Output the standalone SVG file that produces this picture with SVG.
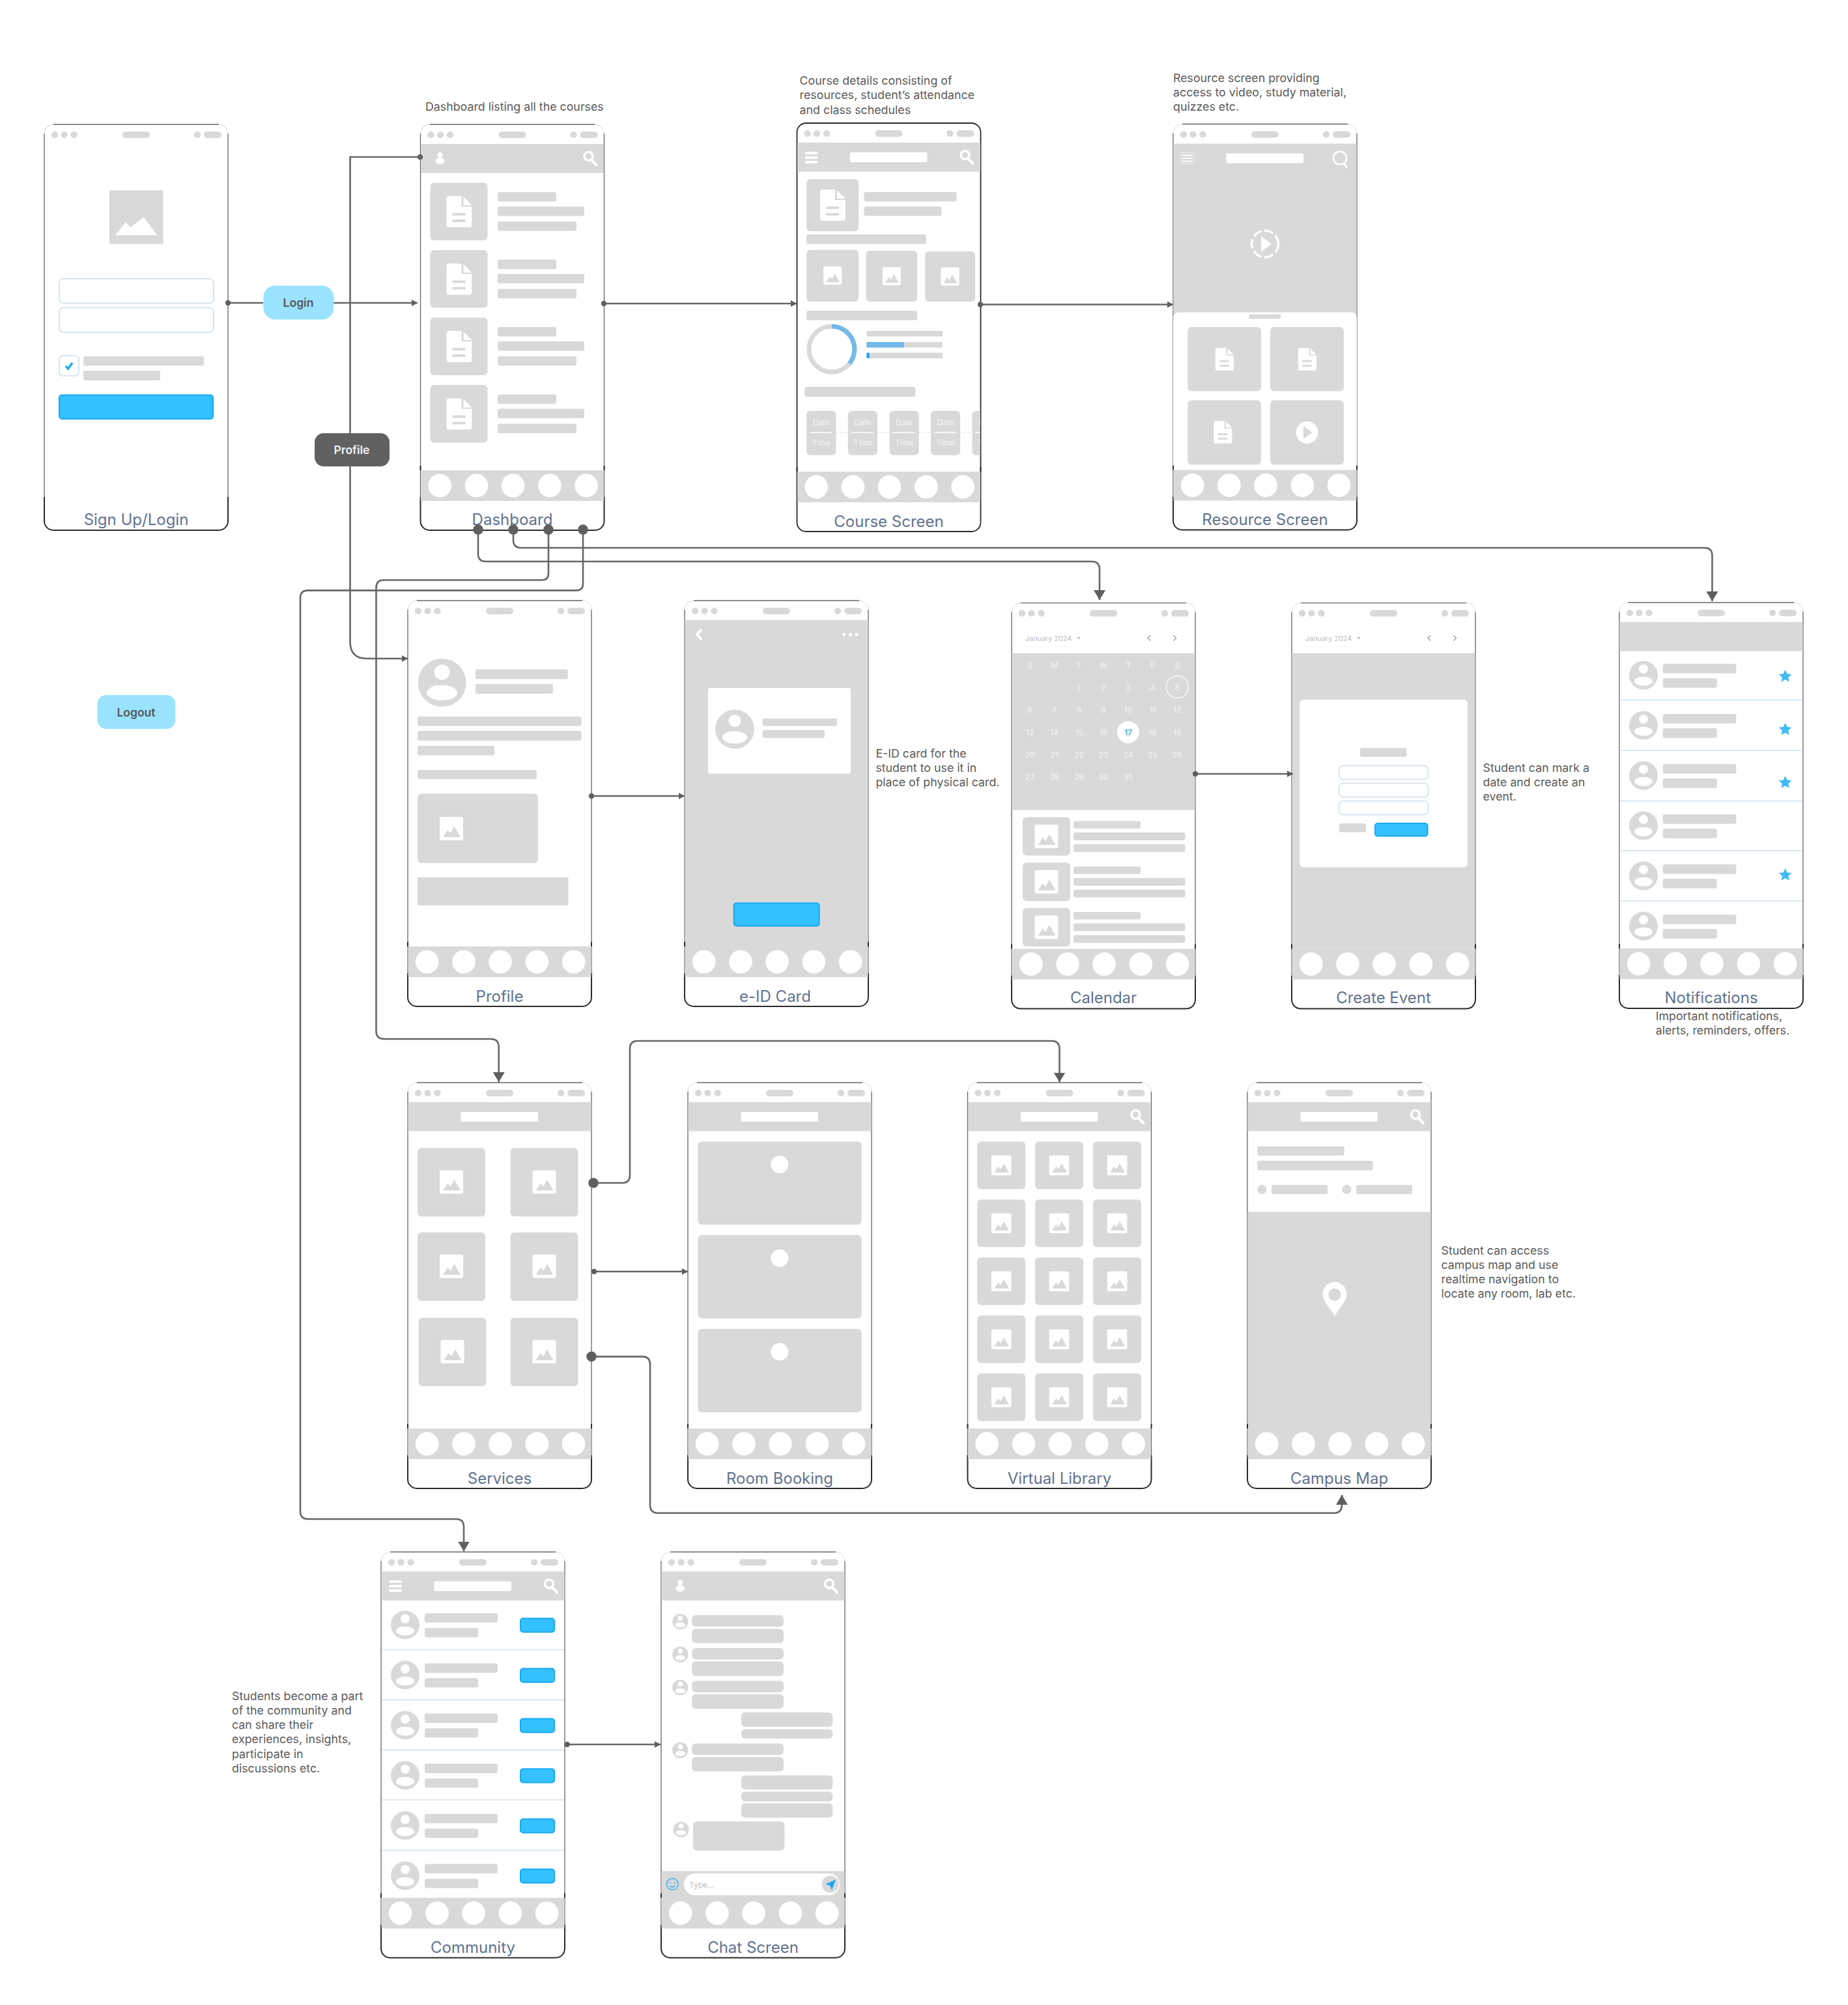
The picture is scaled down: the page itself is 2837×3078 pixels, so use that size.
<svg xmlns="http://www.w3.org/2000/svg" xmlns:xlink="http://www.w3.org/1999/xlink" width="2837" height="3078" viewBox="0 0 2837 3078">
<style>
text{font-family:Inter,"Liberation Sans",sans-serif}
.g{fill:#d9d9d9}
.w{fill:#fff}
.l{fill:#d9d9d9;rx:3px}
.c{fill:#d9d9d9;rx:6px}
.t{fill:#fff;rx:2px}
.lab{font-size:24px;fill:#5f7290;text-anchor:middle}
.note{font-size:17.8px;fill:#5a5a5a}
.pill{font-size:17.5px;font-weight:600;text-anchor:middle}
.inp{fill:#fff;stroke:#d8e5ef;stroke-width:2;rx:6px}
.btn{fill:#33c1ff;stroke:#1aa7f5;stroke-width:2;rx:4px}
.cal{font-size:12px;fill:#f4f4f4;text-anchor:middle}
.cal2{font-size:10.8px;fill:#bdbdbd}
.dt{font-size:12px;fill:#f4f4f4;text-anchor:middle}
.ic{fill:none;stroke:#fff}
.div{stroke:#cfe2f0;stroke-width:1.5}
.star{fill:#3fbaf6}
.conn{fill:none;stroke:#666;stroke-width:2.6}
.mk{fill:#5f5f5f}
.fs{fill:none;stroke:#666;stroke-width:1.3}
.fb{fill:none;stroke:#2b2b2b;stroke-width:2}
</style>
<defs>
<marker id="as" markerUnits="userSpaceOnUse" markerWidth="10" markerHeight="12" refX="9" refY="5" orient="auto" viewBox="0 0 10 10"><path class="mk" d="M0 0L9 5L0 10Z"/></marker>
<marker id="al" markerUnits="userSpaceOnUse" markerWidth="16" markerHeight="18" refX="15" refY="9" orient="auto" viewBox="0 0 16 18"><path class="mk" d="M0 0L15 9L0 18Z"/></marker>
<marker id="ds" markerUnits="userSpaceOnUse" markerWidth="10" markerHeight="10" refX="5" refY="5" viewBox="0 0 10 10"><circle class="mk" cx="5" cy="5" r="4.2"/></marker>
<marker id="dl" markerUnits="userSpaceOnUse" markerWidth="18" markerHeight="18" refX="9" refY="9" viewBox="0 0 18 18"><circle class="mk" cx="9" cy="9" r="7.8"/></marker>
<g id="sb"><ellipse class="g" cx="16" cy="16" rx="5.2" ry="5"/><ellipse class="g" cx="30.5" cy="16" rx="5.2" ry="5"/><ellipse class="g" cx="45.5" cy="16" rx="5.2" ry="5"/><rect class="g" x="120" y="11" width="42" height="10" rx="5"/><ellipse class="g" cx="235" cy="16" rx="5.2" ry="5"/><rect class="g" x="245" y="11" width="27" height="10" rx="5"/></g>
<g id="frame"><rect class="w" width="282" height="623" rx="14"/><path class="fs" d="M14 0H268M0 14V572M282 14V572"/><path d="M0 14A14 14 0 0 1 14 0M268 0A14 14 0 0 1 282 14" fill="none" stroke="#cfdfe8"/><path class="fb" d="M0 572V609A14 14 0 0 0 14 623H268A14 14 0 0 0 282 609V572"/><use href="#sb" xlink:href="#sb"/></g>
<g id="nav"><path class="fb" d="M0 524V531M282 524V531"/><rect class="g" x="0.5" y="531" width="281" height="47"/><ellipse class="w" cx="29.7" cy="554.5" rx="17.8" ry="18"/><ellipse class="w" cx="86" cy="554.5" rx="17.8" ry="18"/><ellipse class="w" cx="142" cy="554.5" rx="17.8" ry="18"/><ellipse class="w" cx="198.4" cy="554.5" rx="17.8" ry="18"/><ellipse class="w" cx="254.6" cy="554.5" rx="17.8" ry="18"/></g>
<g id="av"><circle class="g" r="22"/><circle class="w" cy="-9.5" r="7"/><ellipse class="w" cy="9.2" rx="14" ry="7"/></g>
<g id="img"><rect class="w" x="-18" y="-18" width="36" height="36" rx="3"/><path class="g" d="M-13 13L-5.5 2L-1.5 7L4.5 -3.5L14 13Z"/></g>
<g id="doc"><path class="w" d="M-19 -20a4 4 0 0 1 4 -4H4V-8H20V20a4 4 0 0 1 -4 4H-15a4 4 0 0 1 -4 -4ZM7 -23L20 -10H7Z"/><rect class="g" x="-10" y="2" width="20" height="4"/><rect class="g" x="-10" y="12" width="20" height="4"/></g>
<g id="search"><circle class="ic" cx="-2" cy="-3" r="6.5" stroke-width="3.5"/><path class="ic" d="M3 3L10 10" stroke-width="4" stroke-linecap="round"/></g>
<g id="menu"><rect class="w" x="0" y="0" width="20" height="4" rx="2"/><rect class="w" x="0" y="7" width="20" height="4" rx="2"/><rect class="w" x="0" y="14" width="20" height="4" rx="2"/></g>
<g id="person"><circle class="w" cy="-6" r="4"/><ellipse class="w" cy="3" rx="7" ry="5"/></g>
<g id="hdr"><rect class="g" x="0.5" y="30" width="281" height="44.5"/></g>
<g id="ttl"><rect class="t" x="81.5" y="45" width="118.5" height="15"/></g>
<g id="nrow"><use href="#av" xlink:href="#av" x="37" y="111.6"/><rect class="l" x="66.8" y="94" width="112.6" height="14.8"/><rect class="l" x="66.8" y="116" width="83" height="14.8"/></g>
<g id="crow"><use href="#av" xlink:href="#av" x="37" y="112"/><rect class="l" x="67" y="94" width="112" height="14.4"/><rect class="l" x="67" y="116.7" width="82" height="14.4"/><rect class="btn" x="214" y="102" width="52" height="21"/></g>
<g id="dcard"><rect class="c" x="15" y="89.5" width="88" height="88.5"/><use href="#doc" xlink:href="#doc" x="59" y="134"/><rect class="l" x="118.5" y="104" width="90" height="14.5"/><rect class="l" x="118.5" y="126" width="133" height="14.5"/><rect class="l" x="118.5" y="149" width="121" height="14.5"/></g>
<g id="lcard"><rect class="c" width="74" height="73"/><g transform="translate(37 36.5) scale(.85)"><use href="#img" xlink:href="#img"/></g></g>
<g id="scard"><rect class="c" width="104" height="105"/><use href="#img" xlink:href="#img" x="52" y="52"/></g>
<g id="evt"><rect class="c" x="17" y="329" width="73" height="59"/><use href="#img" xlink:href="#img" x="53.5" y="358.5"/><rect class="l" x="95" y="335" width="103" height="11.5"/><rect class="l" x="95" y="352.5" width="171.5" height="12"/><rect class="l" x="95" y="370.5" width="171.5" height="12"/></g>
<g id="dcd"><rect class="c" width="45.2" height="68"/><text class="dt" x="22.6" y="22.5">Date</text><rect class="w" x="5" y="32.5" width="34" height="1.5"/><text class="dt" x="22.6" y="53.5">Time</text></g>
<g id="bb"><rect class="c" x="0" y="0" width="140.8" height="17.7"/></g>
<polygon id="st" class="star" points="0,-10.3 2.9,-3.9 9.9,-3.2 4.6,1.5 6.1,8.4 0,4.8 -6.1,8.4 -4.6,1.5 -9.9,-3.2 -2.9,-3.9"/>
<clipPath id="ccl"><rect x="0" y="430" width="281" height="90"/></clipPath>
</defs>

<g id="sign-up-login" transform="translate(68 191)">
<use href="#frame" xlink:href="#frame"/>
<rect class="g" x="100" y="101" width="82.5" height="82.5" rx="2"/>
<path class="w" d="M109 170L125 150L132 158L152.6 142.8L173.7 170Z"/>
<rect class="inp" x="23" y="237" width="237" height="37.5"/>
<rect class="inp" x="23" y="281.5" width="237" height="37.5"/>
<rect class="inp" x="23" y="355" width="30" height="31"/>
<path d="M33 371L36.5 375L43 366" fill="none" stroke="#1aa7f5" stroke-width="3.4"/>
<rect class="l" x="60" y="356" width="185" height="14.5"/>
<rect class="l" x="60" y="378" width="118" height="15"/>
<rect class="btn" x="23" y="415.5" width="236" height="36.5"/>
<text class="lab" x="141" y="615">Sign Up/Login</text>
</g>

<g id="dashboard" transform="translate(645.5 191)">
<use href="#frame" xlink:href="#frame"/>
<use href="#hdr" xlink:href="#hdr"/>
<use href="#person" xlink:href="#person" x="30" y="53"/>
<use href="#search" xlink:href="#search" x="260" y="52"/>
<use href="#dcard" xlink:href="#dcard"/>
<use href="#dcard" xlink:href="#dcard" y="103.5"/>
<use href="#dcard" xlink:href="#dcard" y="207"/>
<use href="#dcard" xlink:href="#dcard" y="310.5"/>
<use href="#nav" xlink:href="#nav"/>
<text class="lab" x="141" y="615">Dashboard</text>
</g>

<g id="course-screen" transform="translate(1223.5 189)">
<rect class="w" width="282" height="627" rx="14"/>
<rect width="282" height="627" rx="14" fill="none" stroke="#2b2b2b" stroke-width="1.8"/>
<use href="#sb" xlink:href="#sb"/>
<use href="#hdr" xlink:href="#hdr"/>
<use href="#menu" xlink:href="#menu" x="12" y="44"/>
<use href="#ttl" xlink:href="#ttl"/>
<use href="#search" xlink:href="#search" x="260" y="52"/>
<rect class="c" x="14.7" y="86" width="80" height="80"/>
<use href="#doc" xlink:href="#doc" x="54.5" y="126"/>
<rect class="l" x="103" y="105.7" width="142" height="14.6"/>
<rect class="l" x="103" y="128" width="119" height="14.6"/>
<rect class="l" x="14.7" y="170.8" width="183.5" height="14.7"/>
<rect class="c" x="14.7" y="194.4" width="80" height="79.6"/>
<g transform="translate(54.7 234) scale(.78)"><use href="#img" xlink:href="#img"/></g>
<rect class="c" x="106" y="196" width="78.6" height="78"/>
<g transform="translate(145.3 235) scale(.78)"><use href="#img" xlink:href="#img"/></g>
<rect class="c" x="196.6" y="197" width="77" height="77"/>
<g transform="translate(235 235.5) scale(.78)"><use href="#img" xlink:href="#img"/></g>
<rect class="l" x="14.7" y="288" width="170" height="14.5"/>
<circle cx="53.4" cy="347" r="35" fill="none" stroke="#d9d9d9" stroke-width="7"/>
<path d="M53.4 312A35 35 0 0 1 80.5 369" fill="none" stroke="#74b9e8" stroke-width="7"/>
<rect class="g" x="106.8" y="319" width="116.8" height="8.4" rx="1"/>
<rect class="g" x="106.8" y="336" width="116.8" height="8.4" rx="1"/>
<rect x="106.8" y="336" width="57.6" height="8.4" rx="1" fill="#74b9e8"/>
<rect class="g" x="106.8" y="352.5" width="116.8" height="8.4" rx="1"/>
<rect x="106.8" y="352.5" width="4.7" height="8.4" rx="1" fill="#2aa8f0"/>
<rect class="l" x="11.7" y="405" width="170.2" height="15"/>
<path d="M59 475H282" stroke="#d9d9d9" stroke-width="1.2" stroke-dasharray="4 3"/>
<g clip-path="url(#ccl)">
<use href="#dcd" xlink:href="#dcd" x="14.7" y="441.7"/>
<use href="#dcd" xlink:href="#dcd" x="78.3" y="441.7"/>
<use href="#dcd" xlink:href="#dcd" x="142" y="441.7"/>
<use href="#dcd" xlink:href="#dcd" x="205.4" y="441.7"/>
<use href="#dcd" xlink:href="#dcd" x="269" y="441.7"/>
</g>
<use href="#nav" xlink:href="#nav" y="4"/>
<text class="lab" x="141" y="620">Course Screen</text>
</g>

<g id="resource-screen" transform="translate(1801 190.5)">
<use href="#frame" xlink:href="#frame"/>
<rect class="g" x="0.5" y="30" width="281" height="262"/>
<rect class="w" x="0" y="289" width="282" height="245" rx="8"/>
<rect x="12" y="44" width="19" height="17" fill="none" stroke="#eee" stroke-width="1"/>
<path d="M14 48H29M14 52.5H29M14 57H29" stroke="#fff" stroke-width="2"/>
<use href="#ttl" xlink:href="#ttl"/>
<circle class="ic" cx="256" cy="52" r="10" stroke-width="2.6"/><path class="ic" d="M262 60L267 67" stroke-width="3"/>
<circle class="ic" cx="141" cy="184" r="20.5" stroke-width="3.5" stroke-dasharray="14 5"/>
<path class="w" d="M135 172L151 184L135 196Z"/>
<rect class="g" x="116" y="292" width="49.5" height="7" rx="3.5"/>
<rect class="c" x="22.3" y="311.5" width="112.7" height="98.5"/>
<g transform="translate(78.6 361) scale(.72)"><use href="#doc" xlink:href="#doc"/></g>
<rect class="c" x="149" y="311.5" width="113" height="98.5"/>
<g transform="translate(205.5 361) scale(.72)"><use href="#doc" xlink:href="#doc"/></g>
<rect class="c" x="22.3" y="424" width="112.7" height="99"/>
<g transform="translate(76 473) scale(.72)"><use href="#doc" xlink:href="#doc"/></g>
<rect class="c" x="149" y="424" width="113" height="99"/>
<circle class="w" cx="205.5" cy="473.5" r="17"/><path class="g" d="M200 464L214 473.5L200 483Z"/>
<use href="#nav" xlink:href="#nav"/>
<text class="lab" x="141" y="615">Resource Screen</text>
</g>

<g id="profile" transform="translate(626 922)">
<use href="#frame" xlink:href="#frame"/>
<g transform="translate(52.6 126) scale(1.68)"><use href="#av" xlink:href="#av"/></g>
<rect class="l" x="103.8" y="105.5" width="142" height="15"/>
<rect class="l" x="103.8" y="128" width="119" height="15"/>
<rect class="l" x="15" y="178" width="251.6" height="14.5"/>
<rect class="l" x="15" y="200" width="251.6" height="15"/>
<rect class="l" x="15" y="223" width="118" height="14.5"/>
<rect class="l" x="15" y="260" width="183" height="14"/>
<rect class="c" x="15" y="296.5" width="185" height="106.5"/>
<use href="#img" xlink:href="#img" x="67" y="350"/>
<rect class="g" x="15" y="425" width="231.5" height="43"/>
<use href="#nav" xlink:href="#nav"/>
<text class="lab" x="141" y="616">Profile</text>
</g>

<g id="e-id-card" transform="translate(1051 922)">
<use href="#frame" xlink:href="#frame"/>
<rect class="g" x="0.5" y="30" width="281" height="501"/>
<path class="ic" d="M26 44L19 52L26 60" stroke-width="4"/>
<circle class="w" cx="245" cy="52" r="2.6"/><circle class="w" cx="254.5" cy="52" r="2.6"/><circle class="w" cx="264" cy="52" r="2.6"/>
<rect class="w" x="36" y="134" width="219" height="131.7" rx="4"/>
<g transform="translate(77 197.5) scale(1.36)"><use href="#av" xlink:href="#av"/></g>
<rect class="l" x="119.6" y="181" width="114.4" height="11.5"/>
<rect class="l" x="119.6" y="198.5" width="95.4" height="12.5"/>
<rect class="btn" x="75.7" y="464.6" width="131" height="34.9"/>
<use href="#nav" xlink:href="#nav"/>
<text class="lab" x="139" y="616">e-ID Card</text>
</g>

<g id="calendar" transform="translate(1553 925.6)">
<use href="#frame" xlink:href="#frame"/>
<text class="cal2" x="21" y="58">January 2024</text>
<path d="M100 52.5H106L103 56Z" fill="#bdbdbd"/>
<path d="M213 50L209 54L213 58M248.5 50L252.5 54L248.5 58" fill="none" stroke="#aaa" stroke-width="1.6"/>
<rect class="g" x="0.5" y="77" width="281" height="241"/>
<circle cx="254.4" cy="129" r="17" fill="none" stroke="#fff" stroke-width="1.2"/>
<circle class="w" cx="179" cy="198.5" r="17"/>
<text class="cal" x="27.8" y="100">S</text><text class="cal" x="65.5" y="100">M</text><text class="cal" x="103.4" y="100">T</text><text class="cal" x="141" y="100">W</text><text class="cal" x="179" y="100">T</text><text class="cal" x="216.6" y="100">F</text><text class="cal" x="254.4" y="100">S</text>
<text class="cal" x="103.4" y="134">1</text><text class="cal" x="141" y="134">2</text><text class="cal" x="179" y="134">3</text><text class="cal" x="216.6" y="134">4</text><text class="cal" x="254.4" y="134">5</text>
<text class="cal" x="27.8" y="168.5">6</text><text class="cal" x="65.5" y="168.5">7</text><text class="cal" x="103.4" y="168.5">8</text><text class="cal" x="141" y="168.5">9</text><text class="cal" x="179" y="168.5">10</text><text class="cal" x="216.6" y="168.5">11</text><text class="cal" x="254.4" y="168.5">12</text>
<text class="cal" x="27.8" y="203">13</text><text class="cal" x="65.5" y="203">14</text><text class="cal" x="103.4" y="203">15</text><text class="cal" x="141" y="203">16</text><text class="cal" x="179" y="203" style="fill:#3aa9ee;font-weight:600">17</text><text class="cal" x="216.6" y="203">18</text><text class="cal" x="254.4" y="203">19</text>
<text class="cal" x="27.8" y="237.5">20</text><text class="cal" x="65.5" y="237.5">21</text><text class="cal" x="103.4" y="237.5">22</text><text class="cal" x="141" y="237.5">23</text><text class="cal" x="179" y="237.5">24</text><text class="cal" x="216.6" y="237.5">25</text><text class="cal" x="254.4" y="237.5">26</text>
<text class="cal" x="27.8" y="271.5">27</text><text class="cal" x="65.5" y="271.5">28</text><text class="cal" x="103.4" y="271.5">29</text><text class="cal" x="141" y="271.5">30</text><text class="cal" x="179" y="271.5">31</text>
<use href="#evt" xlink:href="#evt"/>
<use href="#evt" xlink:href="#evt" y="69.7"/>
<use href="#evt" xlink:href="#evt" y="139.4"/>
<use href="#nav" xlink:href="#nav"/>
<text class="lab" x="141" y="614">Calendar</text>
</g>

<g id="create-event" transform="translate(1983 925.6)">
<use href="#frame" xlink:href="#frame"/>
<text class="cal2" x="21" y="58">January 2024</text>
<path d="M100 52.5H106L103 56Z" fill="#bdbdbd"/>
<path d="M213 50L209 54L213 58M248.5 50L252.5 54L248.5 58" fill="none" stroke="#aaa" stroke-width="1.6"/>
<rect class="g" x="0.5" y="77" width="281" height="454"/>
<rect class="w" x="12.3" y="148.3" width="257.6" height="257.7" rx="6"/>
<rect class="l" x="105" y="222.7" width="71.5" height="13.7"/>
<rect class="inp" x="72.7" y="250" width="136.8" height="21"/>
<rect class="inp" x="72.7" y="277" width="136.8" height="21"/>
<rect class="inp" x="72.7" y="304" width="136.8" height="21"/>
<rect class="l" x="72.7" y="338.5" width="41.3" height="13.5"/>
<rect class="btn" x="128" y="338.5" width="80.6" height="19.5"/>
<use href="#nav" xlink:href="#nav"/>
<text class="lab" x="141" y="614">Create Event</text>
</g>

<g id="notifications" transform="translate(2486 925)">
<use href="#frame" xlink:href="#frame"/>
<use href="#hdr" xlink:href="#hdr"/>
<use href="#nrow" xlink:href="#nrow"/>
<use href="#nrow" xlink:href="#nrow" y="77"/>
<use href="#nrow" xlink:href="#nrow" y="154"/>
<use href="#nrow" xlink:href="#nrow" y="231"/>
<use href="#nrow" xlink:href="#nrow" y="308"/>
<use href="#nrow" xlink:href="#nrow" y="385"/>
<path class="div" d="M1.5 149.7H281M1.5 227H281M1.5 304.4H281M1.5 381H281M1.5 458H281"/>
<use href="#st" xlink:href="#st" x="254.6" y="113.4"/>
<use href="#st" xlink:href="#st" x="254.6" y="195"/>
<use href="#st" xlink:href="#st" x="254.6" y="276.4"/>
<use href="#st" xlink:href="#st" x="254.6" y="418.3"/>
<use href="#nav" xlink:href="#nav"/>
<text class="lab" x="141" y="615">Notifications</text>
</g>

<g id="services" transform="translate(626 1662)">
<use href="#frame" xlink:href="#frame"/>
<use href="#hdr" xlink:href="#hdr"/>
<use href="#ttl" xlink:href="#ttl"/>
<use href="#scard" xlink:href="#scard" x="15" y="100.5"/>
<use href="#scard" xlink:href="#scard" x="157.5" y="100.5"/>
<use href="#scard" xlink:href="#scard" x="15" y="230"/>
<use href="#scard" xlink:href="#scard" x="157.5" y="230"/>
<use href="#scard" xlink:href="#scard" x="16.5" y="361"/>
<use href="#scard" xlink:href="#scard" x="157.5" y="361"/>
<use href="#nav" xlink:href="#nav"/>
<text class="lab" x="141" y="616">Services</text>
</g>

<g id="room-booking" transform="translate(1056 1662)">
<use href="#frame" xlink:href="#frame"/>
<use href="#hdr" xlink:href="#hdr"/>
<use href="#ttl" xlink:href="#ttl"/>
<rect class="c" x="15.4" y="90.5" width="251.3" height="127.5"/>
<rect class="c" x="15.4" y="234" width="251.3" height="128"/>
<rect class="c" x="15.4" y="378" width="251.3" height="128"/>
<circle class="w" cx="140.8" cy="125.8" r="13.5"/>
<circle class="w" cx="140.8" cy="269.5" r="13.5"/>
<circle class="w" cx="140.8" cy="413.2" r="13.5"/>
<use href="#nav" xlink:href="#nav"/>
<text class="lab" x="141" y="616">Room Booking</text>
</g>

<g id="virtual-library" transform="translate(1485.5 1662)">
<use href="#frame" xlink:href="#frame"/>
<use href="#hdr" xlink:href="#hdr"/>
<use href="#ttl" xlink:href="#ttl"/>
<use href="#search" xlink:href="#search" x="260" y="52"/>
<use href="#lcard" xlink:href="#lcard" x="14.7" y="90.5"/><use href="#lcard" xlink:href="#lcard" x="103.5" y="90.5"/><use href="#lcard" xlink:href="#lcard" x="192.6" y="90.5"/>
<use href="#lcard" xlink:href="#lcard" x="14.7" y="179.5"/><use href="#lcard" xlink:href="#lcard" x="103.5" y="179.5"/><use href="#lcard" xlink:href="#lcard" x="192.6" y="179.5"/>
<use href="#lcard" xlink:href="#lcard" x="14.7" y="268.5"/><use href="#lcard" xlink:href="#lcard" x="103.5" y="268.5"/><use href="#lcard" xlink:href="#lcard" x="192.6" y="268.5"/>
<use href="#lcard" xlink:href="#lcard" x="14.7" y="357.5"/><use href="#lcard" xlink:href="#lcard" x="103.5" y="357.5"/><use href="#lcard" xlink:href="#lcard" x="192.6" y="357.5"/>
<use href="#lcard" xlink:href="#lcard" x="14.7" y="446.5"/><use href="#lcard" xlink:href="#lcard" x="103.5" y="446.5"/><use href="#lcard" xlink:href="#lcard" x="192.6" y="446.5"/>
<use href="#nav" xlink:href="#nav"/>
<text class="lab" x="141" y="616">Virtual Library</text>
</g>

<g id="campus-map" transform="translate(1915 1662)">
<use href="#frame" xlink:href="#frame"/>
<use href="#hdr" xlink:href="#hdr"/>
<use href="#ttl" xlink:href="#ttl"/>
<use href="#search" xlink:href="#search" x="260" y="52"/>
<rect class="l" x="15.3" y="97.8" width="133.4" height="14.2"/>
<rect class="l" x="15.3" y="120" width="177.3" height="14.5"/>
<circle class="g" cx="22.3" cy="164" r="7.2"/>
<rect class="l" x="37" y="157" width="86" height="14.3"/>
<circle class="g" cx="152.4" cy="164" r="7.2"/>
<rect class="l" x="167" y="157" width="86" height="14.3"/>
<rect class="g" x="0.5" y="198.4" width="281" height="333"/>
<path class="w" d="M134 358.6C127 345 115.5 337 115.5 324.5A18.5 18.5 0 0 1 152.5 324.5C152.5 337 141 345 134 358.6Z"/>
<circle class="g" cx="134" cy="325.5" r="9.5"/>
<use href="#nav" xlink:href="#nav"/>
<text class="lab" x="141" y="616">Campus Map</text>
</g>

<g id="community" transform="translate(585 2382.5)">
<use href="#frame" xlink:href="#frame"/>
<use href="#hdr" xlink:href="#hdr"/>
<use href="#menu" xlink:href="#menu" x="12" y="43.5"/>
<use href="#ttl" xlink:href="#ttl"/>
<use href="#search" xlink:href="#search" x="260" y="52"/>
<use href="#crow" xlink:href="#crow"/>
<use href="#crow" xlink:href="#crow" y="77"/>
<use href="#crow" xlink:href="#crow" y="154"/>
<use href="#crow" xlink:href="#crow" y="231"/>
<use href="#crow" xlink:href="#crow" y="308"/>
<use href="#crow" xlink:href="#crow" y="385"/>
<path class="div" d="M1 150H281M1 227H281M1 304H281M1 380.7H281M1 458H281"/>
<use href="#nav" xlink:href="#nav"/>
<text class="lab" x="141" y="615">Community</text>
</g>

<g id="chat-screen" transform="translate(1015 2382.5)">
<use href="#frame" xlink:href="#frame"/>
<use href="#hdr" xlink:href="#hdr"/>
<use href="#person" xlink:href="#person" x="29.3" y="53"/>
<use href="#search" xlink:href="#search" x="260" y="52"/>
<g transform="translate(29.3 107) scale(.55)"><use href="#av" xlink:href="#av"/></g>
<g transform="translate(29.3 157.4) scale(.55)"><use href="#av" xlink:href="#av"/></g>
<g transform="translate(29.3 208) scale(.55)"><use href="#av" xlink:href="#av"/></g>
<g transform="translate(29.3 304.4) scale(.55)"><use href="#av" xlink:href="#av"/></g>
<g transform="translate(30.6 426) scale(.55)"><use href="#av" xlink:href="#av"/></g>
<use href="#bb" xlink:href="#bb" x="47.2" y="97"/>
<rect class="c" x="47.2" y="118" width="140.8" height="22"/>
<use href="#bb" xlink:href="#bb" x="47.2" y="147.4"/>
<rect class="c" x="47.2" y="168" width="140.8" height="22.4"/>
<use href="#bb" xlink:href="#bb" x="47.2" y="197.7"/>
<rect class="c" x="47.2" y="218.6" width="140.8" height="22.1"/>
<rect class="c" x="123" y="246.3" width="140.4" height="22.1"/>
<rect class="c" x="123" y="272" width="140.4" height="14.6"/>
<use href="#bb" xlink:href="#bb" x="47.2" y="294"/>
<rect class="c" x="47.2" y="314.8" width="140.8" height="22.2"/>
<rect class="c" x="123" y="343" width="140.4" height="21.7"/>
<rect class="c" x="123" y="368" width="140.4" height="15"/>
<rect class="c" x="123" y="386" width="140.4" height="22"/>
<rect class="c" x="49" y="413.7" width="140.4" height="44.7"/>
<rect class="g" x="0.5" y="490" width="281" height="45"/>
<rect class="w" x="35" y="493.4" width="239" height="33.6" rx="16.8"/>
<circle cx="17.2" cy="510" r="8.8" fill="none" stroke="#33b5f5" stroke-width="1.5"/>
<circle cx="14" cy="508" r="1" fill="#33b5f5"/><circle cx="20.4" cy="508" r="1" fill="#33b5f5"/>
<path d="M13 512.5Q17.2 516.5 21.4 512.5" fill="none" stroke="#33b5f5" stroke-width="1.3"/>
<text x="43" y="515" style="font-size:12px;fill:#bdbdbd">Type...</text>
<circle class="g" cx="259.6" cy="510" r="13"/>
<path d="M252 510L268 503L262 519L259 512Z" fill="#1ea6f5"/>
<use href="#nav" xlink:href="#nav"/>
<text class="lab" x="141" y="615">Chat Screen</text>
</g>

<g id="notes">
<text class="note" x="653" y="170">Dashboard listing all the courses</text>
<text class="note" x="1227.6" y="130">Course details consisting of</text>
<text class="note" x="1227.6" y="152">resources, student’s attendance</text>
<text class="note" x="1227.6" y="174.5">and class schedules</text>
<text class="note" x="1801" y="125.5">Resource screen providing</text>
<text class="note" x="1801" y="148">access to video, study material,</text>
<text class="note" x="1801" y="170">quizzes etc.</text>
<text class="note" x="1344.4" y="1162.5">E-ID card for the</text>
<text class="note" x="1344.4" y="1185">student to use it in</text>
<text class="note" x="1344.4" y="1207">place of physical card.</text>
<text class="note" x="2276.5" y="1184.5">Student can mark a</text>
<text class="note" x="2276.5" y="1206.5">date and create an</text>
<text class="note" x="2276.5" y="1228.5">event.</text>
<text class="note" x="2541.7" y="1566">Important notifications,</text>
<text class="note" x="2541.7" y="1588">alerts, reminders, offers.</text>
<text class="note" x="2212.5" y="1925.5">Student can access</text>
<text class="note" x="2212.5" y="1947.5">campus map and use</text>
<text class="note" x="2212.5" y="1970">realtime navigation to</text>
<text class="note" x="2212.5" y="1992">locate any room, lab etc.</text>
<text class="note" x="356" y="2609.5">Students become a part</text>
<text class="note" x="356" y="2631.5">of the community and</text>
<text class="note" x="356" y="2654">can share their</text>
<text class="note" x="356" y="2676">experiences, insights,</text>
<text class="note" x="356" y="2698.5">participate in</text>
<text class="note" x="356" y="2720.5">discussions etc.</text>
</g>

<g id="connectors">
<path class="conn" marker-start="url(#ds)" d="M350 465H404"/>
<path class="conn" marker-end="url(#as)" d="M512 465H641"/>
<path class="conn" marker-start="url(#ds)" marker-end="url(#as)" d="M645 241H537.5V985Q537.5 1011 563 1011H626"/>
<path class="conn" marker-start="url(#ds)" marker-end="url(#as)" d="M927 466H1223"/>
<path class="conn" marker-start="url(#ds)" marker-end="url(#as)" d="M1505 467.5H1801"/>
<path class="conn" marker-start="url(#dl)" marker-end="url(#al)" d="M788 813V829Q788 841 800 841H2616.5Q2628.5 841 2628.5 853V923"/>
<path class="conn" marker-start="url(#dl)" marker-end="url(#al)" d="M734 813V850Q734 862 746 862H1676Q1688 862 1688 874V921"/>
<path class="conn" marker-start="url(#dl)" marker-end="url(#al)" d="M842 813V880Q842 890.5 832 890.5H589Q577.5 890.5 577.5 902V1583Q577.5 1595 590 1595H753.7Q765.7 1595 765.7 1607V1661"/>
<path class="conn" marker-start="url(#dl)" marker-end="url(#al)" d="M895 813V896Q895 906.4 885 906.4H473Q461 906.4 461 918V2320Q461 2332 473 2332H700Q712 2332 712 2344V2381.5"/>
<path class="conn" marker-start="url(#ds)" marker-end="url(#as)" d="M908 1222H1051"/>
<path class="conn" marker-start="url(#ds)" marker-end="url(#as)" d="M1835 1188H1985"/>
<path class="conn" marker-start="url(#ds)" marker-end="url(#as)" d="M912 1952H1056"/>
<path class="conn" marker-start="url(#dl)" marker-end="url(#al)" d="M911 1816H955Q967 1816 967 1804V1610Q967 1598 979 1598H1614.5Q1626.5 1598 1626.5 1610V1661.5"/>
<path class="conn" marker-start="url(#dl)" marker-end="url(#al)" d="M908 2082.6H986Q998 2082.6 998 2095V2310Q998 2322.7 1010 2322.7H2048Q2060 2322.7 2060 2310V2295"/>
<path class="conn" marker-start="url(#ds)" marker-end="url(#as)" d="M870.6 2678H1014"/>
</g>

<g id="login"><rect x="404.4" y="438.5" width="108" height="52" rx="18" fill="#9ae3ff"/><text class="pill" x="458" y="471" fill="#555">Login</text></g>
<g id="profile-pill"><rect x="483" y="665" width="115" height="51" rx="14" fill="#616161"/><text class="pill" x="540" y="696.5" fill="#f2f2f2">Profile</text></g>
<g id="logout"><rect x="149.3" y="1067" width="120" height="52" rx="14" fill="#9ae3ff"/><text class="pill" x="209" y="1099.5" fill="#555">Logout</text></g>
</svg>
